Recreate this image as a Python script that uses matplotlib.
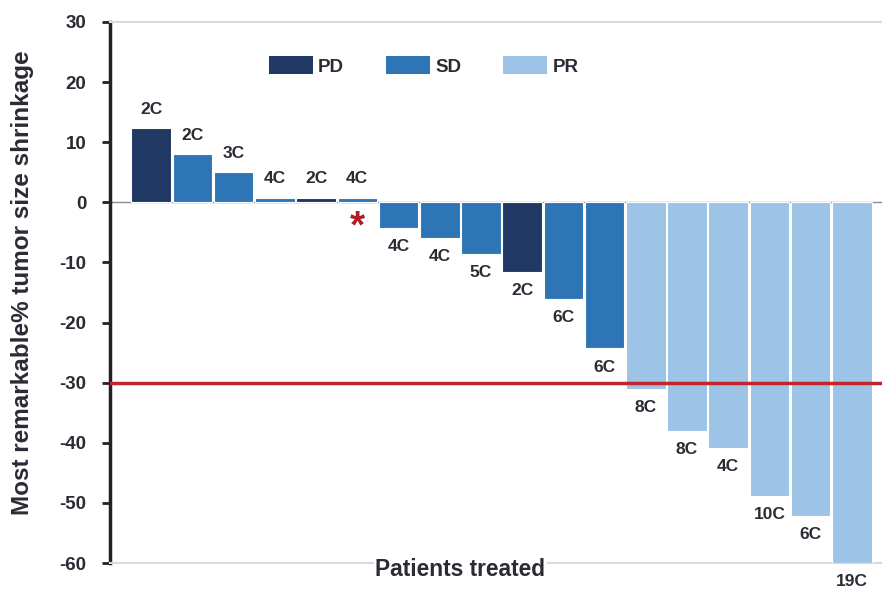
import matplotlib.pyplot as plt
from matplotlib.patches import Patch

plt.rcParams['font.family'] = ['Liberation Sans', 'DejaVu Sans']
plt.rcParams['axes.unicode_minus'] = False

# per-patient best change in tumor size (%), cycles and response
values = [12.3, 8.1, 5.0, 0.8, 0.8, 0.8, -4.2, -5.9, -8.6, -11.6, -16.1, -24.3,
          -31.1, -38.0, -40.9, -48.9, -52.2, -60.0]
cycles = ["2C", "2C", "3C", "4C", "2C", "4C", "4C", "4C", "5C", "2C", "6C", "6C",
          "8C", "8C", "4C", "10C", "6C", "19C"]
response = ["PD", "SD", "SD", "SD", "PD", "SD", "SD", "SD", "SD", "PD", "SD", "SD",
            "PR", "PR", "PR", "PR", "PR", "PR"]
starred = [5]

colors = {"PD": "#203864", "SD": "#2e75b6", "PR": "#9dc3e6"}
txt = "#2b2b35"

fig = plt.figure(figsize=(8.82, 5.93), dpi=100)
ax = fig.add_axes([110 / 882, 30 / 593, 772 / 882, 541 / 593])

x = list(range(len(values)))
ax.bar(x, values, width=0.96, color=[colors[r] for r in response],
       edgecolor="white", linewidth=0.8, zorder=3)
ax.axhline(0, color="#8c8c8c", lw=1, zorder=2)
ax.axhline(-30, color="#c0272d", lw=2.5, zorder=4)

for i, (v, c) in enumerate(zip(values, cycles)):
    if v > 0:
        ax.annotate(c, (i, v), xytext=(0, 8), textcoords="offset points",
                    ha="center", va="bottom", fontsize=12.5, fontweight="bold", color=txt)
    else:
        ax.annotate(c, (i, v), xytext=(0, -8), textcoords="offset points",
                    ha="center", va="top", fontsize=12.5, fontweight="bold", color=txt)
for i in starred:
    ax.annotate("*", (i, 0), xytext=(0, -5), textcoords="offset points",
                ha="center", va="top", fontsize=28, fontweight="bold", color="#b01e23")

ax.set_xlim(-1.0, 17.73)
ax.set_ylim(-60, 30)
ax.set_yticks(range(-60, 31, 10))
ax.set_xticks([])
ax.tick_params(axis="y", direction="out", length=6, width=2, color="#222222",
               labelsize=13.5, labelcolor=txt, pad=11)
for lab in ax.get_yticklabels():
    lab.set_fontweight("bold")

ax.spines["left"].set_color("#222222")
ax.spines["left"].set_linewidth(2.5)
ax.spines["right"].set_visible(False)
ax.spines["top"].set_color("#dadada")
ax.spines["bottom"].set_color("#dadada")
ax.spines["top"].set_linewidth(1.5)
ax.spines["bottom"].set_linewidth(1.5)

ax.set_ylabel("Most remarkable% tumor size shrinkage", fontsize=17.5,
              fontweight="bold", color=txt)
ax.yaxis.set_label_coords(-0.099, 0.519)
ax.text(7.5, -61, "Patients treated", ha="center", va="center", fontsize=16.4,
        fontweight="bold", color=txt, zorder=5,
        bbox=dict(facecolor="white", edgecolor="none", pad=1))

handles = [Patch(facecolor=colors[k], label=k) for k in ["PD", "SD", "PR"]]
leg = ax.legend(handles=handles, ncol=3, frameon=False, loc="center",
                bbox_to_anchor=((423.5 - 110) / 772, 1 - (66 - 22) / 541),
                handlelength=2.35, handleheight=1.07, columnspacing=2.25,
                handletextpad=0.27, prop={"size": 13.5, "weight": "bold"})
for t in leg.get_texts():
    t.set_color(txt)

fig.savefig("out.png", dpi=100)
